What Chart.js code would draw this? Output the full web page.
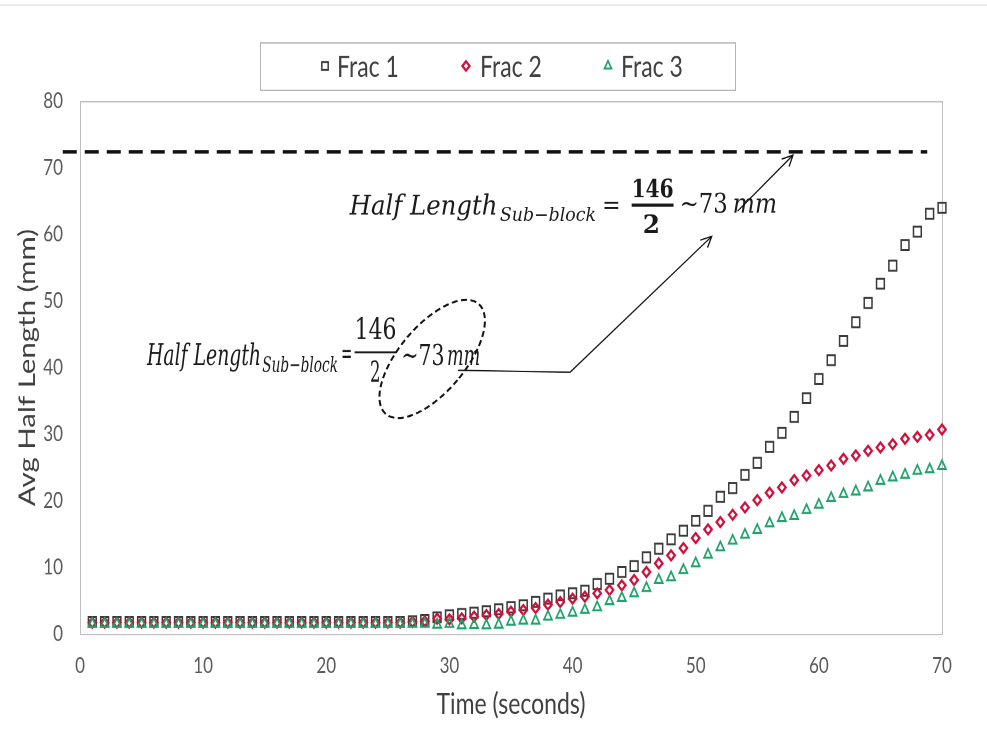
<!DOCTYPE html>
<html>
<head>
<meta charset="utf-8">
<title>Avg Half Length</title>
<script src="https://cdn.jsdelivr.net/npm/chart.js@4.4.1/dist/chart.umd.min.js"></script>
<style>
    html, body { margin: 0; padding: 0; background: #fff; }
    #chart { display: block; width: 987px; height: 730px; }
</style>
</head>
<body>
<!-- the source figure is stretched vertically, so the canvas is drawn at 570px high and shown at 730px -->
<canvas id="chart" width="987" height="570" style="width:987px;height:730px"></canvas>
<script>
// ==================== DATA ====================
const TIME = [
    1, 2, 3, 4, 5, 6, 7, 8, 9, 10,
    11, 12, 13, 14, 15, 16, 17, 18, 19, 20,
    21, 22, 23, 24, 25, 26, 27, 28, 29, 30,
    31, 32, 33, 34, 35, 36, 37, 38, 39, 40,
    41, 42, 43, 44, 45, 46, 47, 48, 49, 50,
    51, 52, 53, 54, 55, 56, 57, 58, 59, 60,
    61, 62, 63, 64, 65, 66, 67, 68, 69, 70,
];

const FRAC_1 = [
    1.8, 1.8, 1.8, 1.8, 1.8, 1.8, 1.8, 1.8, 1.8, 1.8,
    1.8, 1.8, 1.8, 1.8, 1.8, 1.8, 1.8, 1.8, 1.8, 1.8,
    1.8, 1.8, 1.8, 1.8, 1.8, 1.8, 1.9, 2.1, 2.5, 2.8,
    3.0, 3.2, 3.4, 3.7, 4.0, 4.3, 4.8, 5.3, 5.8, 6.1,
    6.5, 7.5, 8.3, 9.3, 10.2, 11.5, 12.8, 14.2, 15.5, 17.0,
    18.5, 20.6, 21.9, 23.9, 25.7, 28.1, 30.2, 32.6, 35.4, 38.3,
    41.1, 44.0, 46.8, 49.7, 52.6, 55.3, 58.4, 60.4, 63.1, 64.0,
];

const FRAC_2 = [
    1.7, 1.7, 1.7, 1.7, 1.7, 1.7, 1.7, 1.7, 1.7, 1.7,
    1.7, 1.7, 1.7, 1.7, 1.7, 1.7, 1.7, 1.7, 1.7, 1.7,
    1.7, 1.7, 1.7, 1.7, 1.7, 1.7, 1.8, 1.9, 2.3, 2.2,
    2.35, 2.6, 2.85, 3.0, 3.35, 3.6, 3.9, 4.4, 4.8, 5.3,
    5.6, 6.1, 6.6, 7.3, 8.1, 9.3, 10.6, 11.8, 12.9, 14.4,
    15.7, 16.8, 17.9, 19.0, 20.1, 21.2, 22.0, 23.1, 23.8, 24.6,
    25.3, 26.3, 26.8, 27.5, 28.0, 28.5, 29.3, 29.6, 29.9, 30.7,
];

const FRAC_3 = [
    1.5, 1.5, 1.5, 1.5, 1.5, 1.5, 1.5, 1.5, 1.5, 1.5,
    1.5, 1.5, 1.5, 1.5, 1.5, 1.5, 1.5, 1.5, 1.5, 1.5,
    1.5, 1.5, 1.5, 1.5, 1.5, 1.5, 1.5, 1.5, 1.4, 1.5,
    1.3, 1.35, 1.3, 1.4, 1.85, 2.0, 2.0, 2.6, 2.85, 3.2,
    3.6, 4.0, 4.9, 5.4, 6.1, 6.9, 8.1, 8.5, 9.6, 10.6,
    11.9, 13.0, 14.0, 14.9, 15.6, 16.6, 17.4, 17.7, 18.6, 19.4,
    20.4, 21.0, 21.4, 22.0, 23.0, 23.5, 23.9, 24.5, 24.7, 25.2,
];

const SERIES_NAMES = ['Frac 1', 'Frac 2', 'Frac 3'];
const X_TICKS = [0, 10, 20, 30, 40, 50, 60, 70];
const Y_TICKS = [0, 10, 20, 30, 40, 50, 60, 70, 80];
const HALF_LENGTH_MM = 72.4;   // dashed line, ~73 mm

// ==================== STYLE / LAYOUT ====================
const S = 730 / 570;            // vertical stretch of the figure
const TEXT_DARK = '#404040';
const TEXT_TICK = '#595959';
const SERIES_STYLE = [
    { color: '#3a3a3a', pointStyle: 'rect', radius: 5.5, width: 1.5, legendRadius: 4.5 },
    { color: '#d0103a', pointStyle: 'rectRot', radius: 3.8, width: 2, legendRadius: 3.6 },
    { color: '#1fa36a', pointStyle: 'triangle', radius: 4.6, width: 1.6, legendRadius: 4 },
];

// legend box in canvas px
const LEGEND_BOX = { left: 260, top: 33, right: 735, bottom: 70 };
const LEGEND_ITEMS = [{ mx: 325, tx: 337 }, { mx: 466, tx: 480 }, { mx: 608, tx: 621 }];
const LEGEND_Y = 51.5;

// annotations, positions in data units: [text, font, x0, x1, baseline]
const SERIF = '"DejaVu Serif"';
const EQ_TOP = [
    ['Half Length', `italic 21px ${SERIF}`, 21.9, 33.9, 63.0],
    ['Sub\u2212block', `italic 15px ${SERIF}`, 34.1, 41.9, 62.0],
    ['=', `20px ${SERIF}`, 42.4, 43.9, 63.2],
    ['146', `bold 20px ${SERIF}`, 44.8, 48.2, 65.6],
    ['2', `bold 20px ${SERIF}`, 45.7, 47.1, 60.2],
    ['~73', `21px ${SERIF}`, 48.7, 52.6, 63.3],
    ['mm', `italic 21px ${SERIF}`, 53.0, 56.6, 63.3],
];
const EQ_TOP_BAR = { x0: 44.8, x1: 48.2, y: 64.4, w: 2.5 };

const EQ_LOW = [
    ['Half Length', `italic 23px ${SERIF}`, 5.44, 14.7, 40.4],
    ['Sub\u2212block', `italic 17px ${SERIF}`, 14.8, 20.95, 39.3],
    ['=', `22px ${SERIF}`, 21.2, 22.1, 40.7],
    ['146', `22px ${SERIF}`, 22.3, 25.7, 44.3],
    ['2', `22px ${SERIF}`, 23.55, 24.4, 37.9],
    ['~73', `22px ${SERIF}`, 26.1, 29.6, 40.4],
    ['mm', `italic 22px ${SERIF}`, 29.8, 32.5, 40.4],
];
const EQ_LOW_BAR = { x0: 22.3, x1: 25.7, y: 42.3, w: 1.5 };

const CONNECTOR = [[30.7, 39.6], [39.8, 39.3], [51.3, 59.7]];
const ARROW_2 = [[53.4, 63.5], [57.9, 71.9]];
const REF_LINE_X = [-1.4, 68.8];
const ELLIPSE = { x: 28.6, y: 41.3, rx: 33, ry: 72, angle: 40 };

Chart.defaults.font.family = "'Lato', 'Open Sans', sans-serif";
Chart.defaults.color = TEXT_TICK;

const puntos = ys => TIME.map((t, i) => ({ x: t, y: ys[i] }));

// ==================== HELPERS ====================
function textoAjustado(ctx, texto, font, x0, x1, y) {
    ctx.save();
    ctx.font = font;
    ctx.textAlign = 'left';
    ctx.textBaseline = 'alphabetic';
    const w = ctx.measureText(texto).width;
    ctx.translate(x0, y);
    ctx.scale((x1 - x0) / w, 1);
    ctx.fillText(texto, 0, 0);
    ctx.restore();
}

function dibujarEcuacion(chart, piezas, bar) {
    const { ctx, scales: { x, y } } = chart;
    ctx.fillStyle = '#1a1a1a';
    piezas.forEach(([t, f, a, b, base]) => {
        textoAjustado(ctx, t, f, x.getPixelForValue(a), x.getPixelForValue(b), y.getPixelForValue(base));
    });
    ctx.fillRect(x.getPixelForValue(bar.x0), y.getPixelForValue(bar.y) - bar.w / 2,
        x.getPixelForValue(bar.x1) - x.getPixelForValue(bar.x0), bar.w);
}

// lines are drawn in display space (undoing the stretch) so arrows keep their shape
function aDisplay(chart, [vx, vy]) {
    return [chart.scales.x.getPixelForValue(vx), chart.scales.y.getPixelForValue(vy) * S];
}

function flecha(ctx, pts) {
    ctx.beginPath();
    ctx.moveTo(pts[0][0], pts[0][1]);
    pts.slice(1).forEach(p => ctx.lineTo(p[0], p[1]));
    ctx.stroke();
    const [ax, ay] = pts[pts.length - 2];
    const [bx, by] = pts[pts.length - 1];
    const ang = Math.atan2(by - ay, bx - ax);
    const L = 12, spread = 0.45;
    ctx.beginPath();
    ctx.moveTo(bx - L * Math.cos(ang - spread), by - L * Math.sin(ang - spread));
    ctx.lineTo(bx, by);
    ctx.lineTo(bx - L * Math.cos(ang + spread), by - L * Math.sin(ang + spread));
    ctx.stroke();
}

const marcoPlugin = {
    id: 'marco',
    beforeDatasetsDraw(chart) {
        const { ctx, chartArea: a } = chart;
        ctx.save();
        ctx.strokeStyle = '#bfbfbf';
        ctx.lineWidth = 1;
        ctx.strokeRect(a.left + 0.5, a.top + 0.5, a.right - a.left, a.bottom - a.top);
        ctx.restore();
    },
};

const anotacionesPlugin = {
    id: 'anotaciones',
    afterDraw(chart) {
        const { ctx, scales: { x, y } } = chart;

        // faint frame line at the very top of the figure
        ctx.save();
        ctx.fillStyle = '#e4e4e4';
        ctx.fillRect(0, 3.5, chart.width, 1);
        ctx.restore();

        // legend
        ctx.save();
        ctx.strokeStyle = '#b4b4b4';
        ctx.lineWidth = 1;
        const lb = LEGEND_BOX;
        ctx.strokeRect(lb.left + 0.5, lb.top + 0.5, lb.right - lb.left, lb.bottom - lb.top);
        ctx.font = "23px 'Lato'";
        ctx.textBaseline = 'middle';
        ctx.textAlign = 'left';
        SERIES_NAMES.forEach((name, i) => {
            const st = SERIES_STYLE[i];
            const it = LEGEND_ITEMS[i];
            ctx.strokeStyle = st.color;
            ctx.fillStyle = 'rgba(0,0,0,0)';
            ctx.lineWidth = st.width;
            Chart.helpers.drawPoint(ctx, {
                pointStyle: st.pointStyle, radius: st.legendRadius, borderWidth: st.width, rotation: 0,
            }, it.mx, LEGEND_Y);
            ctx.fillStyle = TEXT_DARK;
            ctx.fillText(name, it.tx, LEGEND_Y + 1);
        });
        ctx.restore();

        // equations
        ctx.save();
        dibujarEcuacion(chart, EQ_TOP, EQ_TOP_BAR);
        dibujarEcuacion(chart, EQ_LOW, EQ_LOW_BAR);
        ctx.restore();

        // lines, arrows, ellipse in display space
        ctx.save();
        ctx.scale(1, 1 / S);
        ctx.strokeStyle = '#111';

        const yRef = y.getPixelForValue(HALF_LENGTH_MM) * S;
        ctx.lineWidth = 3.5;
        ctx.setLineDash([14, 8]);
        ctx.beginPath();
        ctx.moveTo(x.getPixelForValue(REF_LINE_X[0]), yRef);
        ctx.lineTo(x.getPixelForValue(REF_LINE_X[1]), yRef);
        ctx.stroke();

        ctx.setLineDash([]);
        ctx.lineWidth = 1.3;
        flecha(ctx, CONNECTOR.map(p => aDisplay(chart, p)));
        flecha(ctx, ARROW_2.map(p => aDisplay(chart, p)));

        const [ex, ey] = aDisplay(chart, [ELLIPSE.x, ELLIPSE.y]);
        ctx.lineWidth = 2;
        ctx.setLineDash([6, 3.5]);
        ctx.beginPath();
        ctx.ellipse(ex, ey, ELLIPSE.rx, ELLIPSE.ry, ELLIPSE.angle * Math.PI / 180, 0, Math.PI * 2);
        ctx.stroke();
        ctx.restore();
    },
};

// ==================== CHART ====================
const datasets = [FRAC_1, FRAC_2, FRAC_3].map((serie, i) => ({
    label: SERIES_NAMES[i],
    data: puntos(serie),
    pointStyle: SERIES_STYLE[i].pointStyle,
    pointRadius: SERIES_STYLE[i].radius,
    pointBorderWidth: SERIES_STYLE[i].width,
    pointBorderColor: SERIES_STYLE[i].color,
    pointBackgroundColor: 'rgba(0,0,0,0)',
    borderColor: SERIES_STYLE[i].color,
    showLine: false,
    clip: false,
    order: 3 - i,
}));

new Chart(document.getElementById('chart'), {
    type: 'scatter',
    data: { datasets },
    options: {
        responsive: false,
        animation: false,
        devicePixelRatio: 2,
        layout: { padding: { top: 79, right: 45, bottom: 0, left: 0 } },
        plugins: { legend: { display: false }, tooltip: { enabled: false } },
        scales: {
            x: {
                type: 'linear',
                min: X_TICKS[0],
                max: X_TICKS[X_TICKS.length - 1],
                afterBuildTicks: s => { s.ticks = X_TICKS.map(v => ({ value: v })); },
                afterFit: s => { s.height = 75; },
                grid: { display: false, drawTicks: false },
                border: { display: false },
                ticks: { padding: 15, font: { size: 17 }, color: TEXT_TICK, maxRotation: 0 },
                title: {
                    display: true, text: 'Time (seconds)', color: TEXT_DARK,
                    font: { size: 23 }, padding: { top: 0, bottom: 6 },
                },
            },
            y: {
                min: Y_TICKS[0],
                max: Y_TICKS[Y_TICKS.length - 1],
                afterBuildTicks: s => { s.ticks = Y_TICKS.map(v => ({ value: v })); },
                afterFit: s => { s.width = 80; },
                grid: { display: false, drawTicks: false },
                border: { display: false },
                ticks: { padding: 17, font: { size: 17 }, color: TEXT_TICK },
                title: {
                    display: true, text: 'Avg Half Length (mm)', color: TEXT_DARK,
                    font: { size: 23 }, padding: { top: 14, bottom: 0 },
                },
            },
        },
    },
    plugins: [marcoPlugin, anotacionesPlugin],
});
</script>
</body>
</html>
